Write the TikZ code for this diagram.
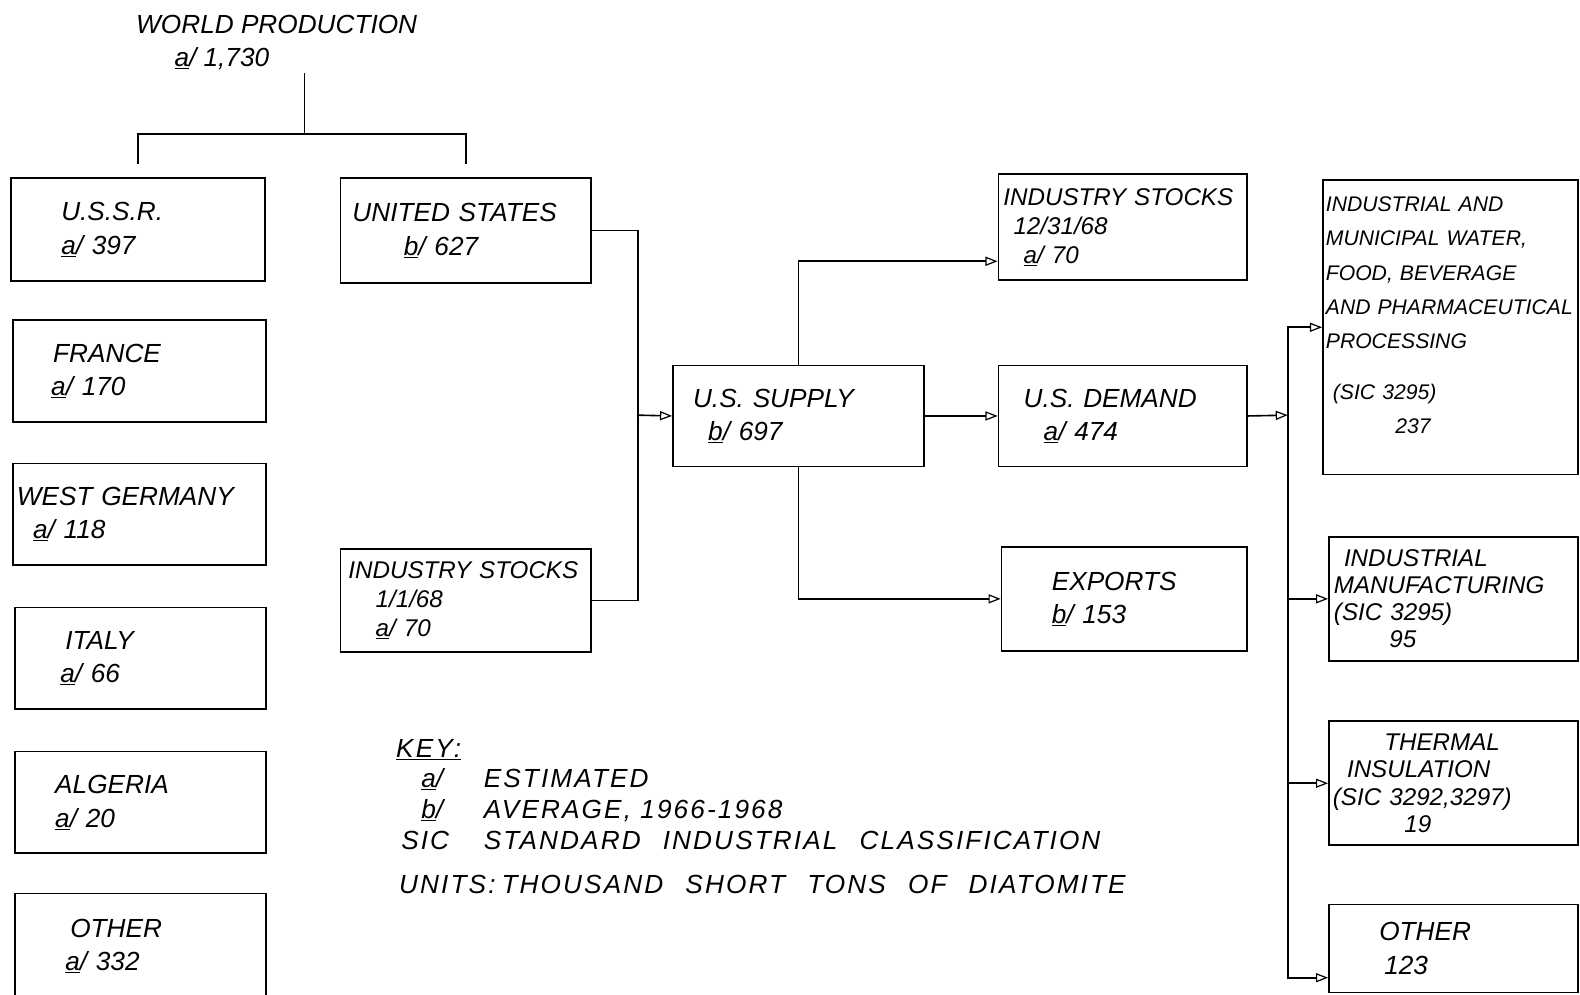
\documentclass[tikz,border=0pt]{standalone}
\usepackage{fontspec}
\setmainfont{Liberation Sans}
\usetikzlibrary{arrows.meta}
\newcommand{\fa}{\underline{a}/}
\newcommand{\fb}{\underline{b}/}

\begin{document}
\begin{tikzpicture}[
    x=1pt, y=-1pt,
    font=\fontsize{26}{33}\selectfont\itshape,
    box/.style={draw, line width=1.6pt, anchor=north west, align=left, inner xsep=0pt, inner ysep=0pt, text width=250pt, minimum height=102pt},
    stockbox/.style={box, font=\fontsize{24}{29}\selectfont\itshape},
    usebox/.style={box, font=\fontsize{24}{27}\selectfont\itshape},
    keytext/.style={anchor=base west, inner sep=0pt, font=\fontsize{26}{30}\selectfont\itshape\addfontfeature{LetterSpace=8}},
    line/.style={line width=1.6pt},
    arr/.style={line, -{Triangle[open, length=12pt, width=9pt, line width=1.2pt]}}
]
\useasboundingbox (0,0) rectangle (1568,987);

% world production and producers
\node[anchor=north west, align=left, inner sep=3pt] (world) at (132,12) {WORLD PRODUCTION\\\hspace*{38pt}\fa\ 1,730};
\coordinate (split) at (302,133);

\node[box, text width=252pt] (ussr) at (10,176) {\hspace*{50pt}U.S.S.R.\\\hspace*{50pt}\fa\ 397};
\node[box, text width=249pt, minimum height=104pt] (us) at (337,176) {\hspace*{12pt}UNITED STATES\\\hspace*{63pt}\fb\ 627};
\node[box, text width=251pt, minimum height=101pt] (france) at (12,317) {\hspace*{40pt}FRANCE\\\hspace*{38pt}\fa\ 170};
\node[box, text width=251pt, minimum height=101pt] (wgermany) at (12,459) {\hspace*{4pt}WEST GERMANY\\\hspace*{20pt}\fa\ 118};
\node[box, text width=249pt, minimum height=101pt] (italy) at (14,602) {\hspace*{50pt}ITALY\\\hspace*{45pt}\fa\ 66};
\node[box, text width=249pt, minimum height=101pt] (algeria) at (14,745) {\hspace*{40pt}ALGERIA\\\hspace*{40pt}\fa\ 20};
\node[box, text width=249pt, minimum height=104pt] (other) at (14,886) {\hspace*{55pt}OTHER\\\hspace*{50pt}\fa\ 332};

% supply side
\node[stockbox, text width=249pt] (stocks1) at (337,544) {\hspace*{8pt}INDUSTRY STOCKS\\\hspace*{35pt}1/1/68\\\hspace*{35pt}\fa\ 70};
\node[box, text width=249pt, minimum height=100pt] (supply) at (667,362) {\hspace*{20pt}U.S. SUPPLY\\\hspace*{35pt}\fb\ 697};
\coordinate (join) at (633,412);

% disposition
\node[stockbox, text width=247pt, minimum height=105pt] (stocks2) at (990,172) {\hspace*{5pt}INDUSTRY STOCKS\\\hspace*{15pt}12/31/68\\\hspace*{25pt}\fa\ 70};
\node[box, text width=247pt, minimum height=100pt] (demand) at (990,362) {\hspace*{25pt}U.S. DEMAND\\\hspace*{45pt}\fa\ 474};
\node[box, text width=244pt, minimum height=103pt] (exports) at (993,542) {\hspace*{50pt}EXPORTS\\\hspace*{50pt}\fb\ 153};
\coordinate (bus) at (1278,412);

% end uses
\node[box, font=\fontsize{21}{34}\selectfont\itshape, text width=253pt, minimum height=292pt] (use1) at (1312,178) {\hspace*{3pt}INDUSTRIAL AND\\\hspace*{3pt}MUNICIPAL WATER,\\\hspace*{3pt}FOOD, BEVERAGE\\\hspace*{3pt}AND PHARMACEUTICAL\\\hspace*{3pt}PROCESSING\\[16pt]\hspace*{10pt}(SIC 3295)\\\hspace*{72pt}237\\[-10pt]~};
\node[usebox, text width=247pt, minimum height=123pt] (use2) at (1318,532) {\hspace*{15pt}INDUSTRIAL\\\hspace*{5pt}MANUFACTURING\\\hspace*{5pt}(SIC 3295)\\\hspace*{60pt}95};
\node[usebox, text width=247pt, minimum height=123pt] (use3) at (1318,715) {\hspace*{55pt}THERMAL\\\hspace*{18pt}INSULATION\\\hspace*{4pt}(SIC 3292,3297)\\\hspace*{75pt}19};
\node[box, text width=247pt, minimum height=87pt] (use4) at (1318,897) {\hspace*{50pt}OTHER\\\hspace*{55pt}123};

% key
\node[keytext] (key) at (393,752) {\underline{KEY:}};
\node[keytext] (keya) at (418,782) {\fa};
\node[keytext] (keyatext) at (480,782) {ESTIMATED};
\node[keytext] (keyb) at (418,812) {\fb};
\node[keytext] (keybtext) at (480,812) {AVERAGE, 1966-1968};
\node[keytext] (keysic) at (398,843) {SIC};
\node[keytext] (keysictext) at (480,843) {\spaceskip=22pt STANDARD INDUSTRIAL CLASSIFICATION};
\node[keytext] (units) at (396,887) {\spaceskip=22pt UNITS:\hspace{6pt}THOUSAND SHORT TONS OF DIATOMITE};

% connectors
\draw[line] (world.south -| split) -- (split);
\draw[line] ([yshift=13pt]ussr.north) |- (split) -| ([yshift=13pt]us.north);
\draw[line] (us.east) -| (join) |- (stocks1.east);
\draw[arr] (join) -- (supply.west);
\draw[arr] (supply.north) |- ([yshift=-34pt]stocks2.west);
\draw[arr] (supply.east) -- (demand.west);
\draw[arr] (supply.south) |- (exports.west);
\draw[arr] (demand.east) -- (bus);
\foreach \u in {use1,use2,use3}
  \draw[arr] (bus) |- (\u.west);
\draw[arr] (bus) |- ([yshift=-29pt]use4.west);
\end{tikzpicture}
\end{document}
